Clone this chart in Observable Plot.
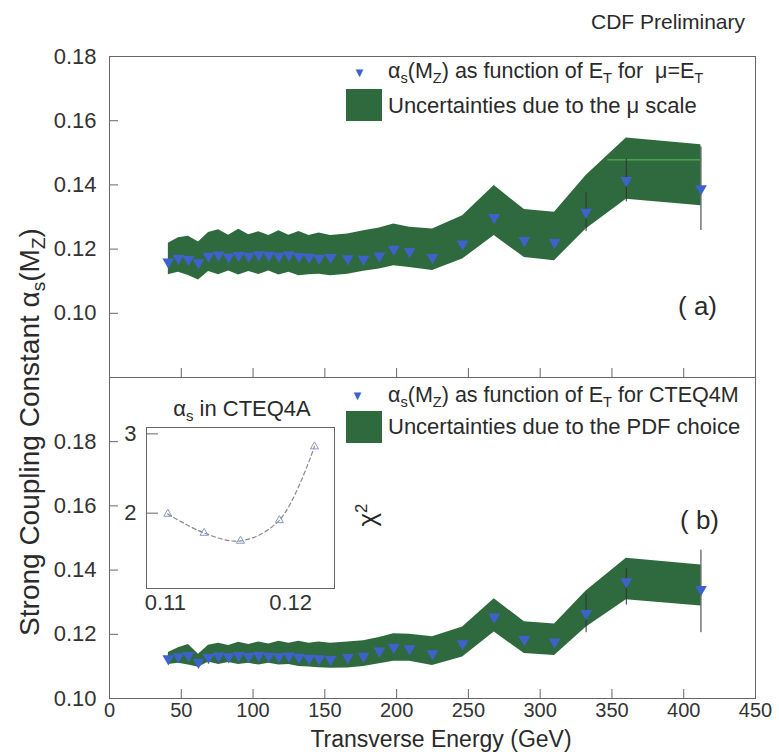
<!DOCTYPE html>
<html>
<head>
<meta charset="utf-8">
<script src="https://cdn.jsdelivr.net/npm/d3@7"></script>
<script src="https://cdn.jsdelivr.net/npm/@observablehq/plot@0.6"></script>
<style>
  html, body { margin: 0; padding: 0; background: #fff; }
  #root { position: relative; width: 779px; height: 752px; overflow: hidden; font-family: "Liberation Sans", Arial, sans-serif; color: #2a2a2a; }
  #root svg { position: absolute; }
  #root svg.main-b g[aria-label="x-axis tick label"],
  #root svg.main-b g[aria-label="x-axis"] { font-size: 20px; }
  .t { position: absolute; white-space: nowrap; transform: translateY(-50%); line-height: 1; }
  sub { font-size: 0.68em; vertical-align: -0.32em; line-height: 0; }
  .sw { position: absolute; background: #2e6a3e; }
</style>
</head>
<body>
<div id="root"></div>
<script>
// E_T bins (GeV)
const et = [41, 48, 55, 62, 69, 76, 83, 90, 97, 104, 111, 118, 125, 132, 139, 146, 154, 166, 177, 188, 198, 209, 225, 246, 268, 289, 310, 332, 360, 412];

// Panel (a): alpha_s(M_Z) for mu = E_T, and mu-scale uncertainty band
const alphaA = [0.1160, 0.1172, 0.1168, 0.1158, 0.1178, 0.1182, 0.1176, 0.1180, 0.1178, 0.1183, 0.1181, 0.1178, 0.1182, 0.1177, 0.1175, 0.1172, 0.1174, 0.1170, 0.1169, 0.1179, 0.1200, 0.1193, 0.1174, 0.1216, 0.1299, 0.1227, 0.1221, 0.1315, 0.1414, 0.1388];
const upperA = [0.1218, 0.1235, 0.1240, 0.1222, 0.1252, 0.1260, 0.1243, 0.1262, 0.1245, 0.1254, 0.1242, 0.1257, 0.1243, 0.1255, 0.1242, 0.1250, 0.1242, 0.1247, 0.1257, 0.1266, 0.1278, 0.1268, 0.1263, 0.1304, 0.1398, 0.1323, 0.1315, 0.1429, 0.1546, 0.1525];
const lowerA = [0.1120, 0.1128, 0.1118, 0.1104, 0.1130, 0.1120, 0.1132, 0.1119, 0.1130, 0.1121, 0.1132, 0.1119, 0.1128, 0.1117, 0.1120, 0.1122, 0.1117, 0.1122, 0.1131, 0.1138, 0.1148, 0.1143, 0.1133, 0.1169, 0.1242, 0.1174, 0.1164, 0.1263, 0.1355, 0.1335];

// Panel (b): alpha_s(M_Z) for CTEQ4M, and PDF-choice uncertainty band
const alphaB = [0.1124, 0.1130, 0.1134, 0.1113, 0.1128, 0.1133, 0.1130, 0.1134, 0.1131, 0.1134, 0.1132, 0.1130, 0.1133, 0.1129, 0.1126, 0.1124, 0.1122, 0.1128, 0.1132, 0.1148, 0.1160, 0.1155, 0.1140, 0.1171, 0.1254, 0.1184, 0.1176, 0.1265, 0.1364, 0.1340];
const upperB = [0.1143, 0.1158, 0.1168, 0.1138, 0.1166, 0.1172, 0.1165, 0.1175, 0.1168, 0.1176, 0.1170, 0.1178, 0.1172, 0.1178, 0.1172, 0.1176, 0.1172, 0.1176, 0.1180, 0.1190, 0.1202, 0.1200, 0.1192, 0.1223, 0.1311, 0.1239, 0.1232, 0.1335, 0.1437, 0.1416];
const lowerB = [0.1106, 0.1110, 0.1104, 0.1097, 0.1114, 0.1106, 0.1112, 0.1106, 0.1110, 0.1104, 0.1110, 0.1104, 0.1106, 0.1100, 0.1098, 0.1096, 0.1094, 0.1095, 0.1100, 0.1108, 0.1116, 0.1116, 0.1103, 0.1129, 0.1207, 0.1140, 0.1134, 0.1222, 0.1308, 0.1288];

// visible error bars at the highest E_T points
const errX = [332, 360, 412];
const errLoA = [0.1255, 0.1347, 0.1258];
const errHiA = [0.1375, 0.1481, 0.1518];
const errLoB = [0.1205, 0.1291, 0.1205];
const errHiB = [0.1325, 0.1405, 0.1462];

// thin green line inside the band of panel (a)
const greenX = [347, 412];
const greenY = [0.1478, 0.1478];

// Inset: chi^2 vs alpha_s in CTEQ4A
const insetAlpha = [0.1102, 0.1131, 0.1160, 0.1191, 0.1219];
const insetChi2 = [1.99, 1.75, 1.65, 1.91, 2.84];

// ticks
const xTicks = [0, 50, 100, 150, 200, 250, 300, 350, 400, 450];
const yTicksA = [0.10, 0.12, 0.14, 0.16, 0.18];
const yTicksB = [0.10, 0.12, 0.14, 0.16, 0.18];
const insetXTicks = [0.11, 0.12];
const insetYTicks = [2, 3];

const GREEN = "#2e6a3e";
const BLUE = "#3d62c9";
const AXIS = "#666";
const FONT = "Liberation Sans, Arial, sans-serif";

const rowsA = et.map((x, i) => ({x, y: alphaA[i], lo: lowerA[i], hi: upperA[i]}));
const rowsB = et.map((x, i) => ({x, y: alphaB[i], lo: lowerB[i], hi: upperB[i]}));
const errA = errX.map((x, i) => ({x, lo: errLoA[i], hi: errHiA[i]}));
const errB = errX.map((x, i) => ({x, lo: errLoB[i], hi: errHiB[i]}));
const greenRows = greenX.map((x, i) => ({x, y: greenY[i]}));
const insetRows = insetAlpha.map((a, i) => ({a, c: insetChi2[i]}));

const root = document.getElementById("root");
const baseStyle = {background: "transparent", fontSize: "22px", fontFamily: FONT, color: "#333", overflow: "visible"};

// ---- Panel (a)
const hA = 380, mtA = 56, mbA = 3, ml = 109, mr = 24;
const innerW = 779 - ml - mr;
const innerHA = hA - mtA - mbA;
const plotA = Plot.plot({
  width: 779, height: hA,
  marginTop: mtA, marginBottom: mbA, marginLeft: ml, marginRight: mr,
  style: baseStyle,
  x: {domain: [0, 450], axis: null},
  y: {domain: [0.08, 0.18], ticks: yTicksA, tickSize: 0, tickPadding: 13, tickFormat: d3.format(".2f"), label: null},
  marks: [
    Plot.areaY(rowsA, {x: "x", y1: "lo", y2: "hi", fill: GREEN}),
    Plot.line(greenRows, {x: "x", y: "y", stroke: "#5cc05c", strokeWidth: 1}),
    Plot.ruleX(errA, {x: "x", y1: "lo", y2: "hi", stroke: "#333", strokeWidth: 1}),
    Plot.dot(rowsA, {x: "x", y: "y", symbol: "triangle", rotate: 180, fill: BLUE, r: 4.4}),
    Plot.tickX(xTicks.slice(1, -1), {x: d => d, insetTop: innerHA - 9, stroke: AXIS}),
    Plot.tickY(yTicksA, {y: d => d, insetRight: innerW - 9, stroke: AXIS}),
    Plot.frame({stroke: AXIS})
  ]
});
plotA.style.left = "0px"; plotA.style.top = "0px";
root.appendChild(plotA);

// ---- Panel (b)
const hB = 752, mtB = 377, mbB = 54;
const innerHB = hB - mtB - mbB;
const plotB = Plot.plot({
  width: 779, height: hB,
  marginTop: mtB, marginBottom: mbB, marginLeft: ml, marginRight: mr,
  style: baseStyle,
  x: {domain: [0, 450], ticks: xTicks, tickSize: 0, tickPadding: 4, label: null},
  y: {domain: [0.10, 0.20], ticks: yTicksB, tickSize: 0, tickPadding: 13, tickFormat: d3.format(".2f"), label: null},
  marks: [
    Plot.areaY(rowsB, {x: "x", y1: "lo", y2: "hi", fill: GREEN}),
    Plot.ruleX(errB, {x: "x", y1: "lo", y2: "hi", stroke: "#333", strokeWidth: 1}),
    Plot.dot(rowsB, {x: "x", y: "y", symbol: "triangle", rotate: 180, fill: BLUE, r: 4.4}),
    Plot.tickX(xTicks.slice(1, -1), {x: d => d, insetTop: innerHB - 9, stroke: AXIS}),
    Plot.tickY(yTicksB, {y: d => d, insetRight: innerW - 9, stroke: AXIS}),
    Plot.frame({stroke: AXIS})
  ]
});
plotB.classList.add("main-b");
plotB.style.left = "0px"; plotB.style.top = "0px";
root.appendChild(plotB);

// ---- Inset
const iw = 223, ih = 196, iml = 30, imr = 5, imt = 5, imb = 30;
const inset = Plot.plot({
  width: iw, height: ih,
  marginTop: imt, marginBottom: imb, marginLeft: iml, marginRight: imr,
  style: baseStyle,
  x: {domain: [0.1085, 0.1235], ticks: insetXTicks, tickSize: 0, tickPadding: 6, tickFormat: d3.format(".2f"), label: null},
  y: {domain: [1.05, 3.08], ticks: insetYTicks, tickSize: 0, tickPadding: 10, tickFormat: d3.format("d"), label: null},
  marks: [
    Plot.tickY(insetYTicks, {y: d => d, insetRight: (iw - iml - imr) - 12, stroke: AXIS}),
    Plot.line(insetRows, {x: "a", y: "c", curve: "catmull-rom", stroke: "#8a8a8a", strokeWidth: 1.2, strokeDasharray: "4,3"}),
    Plot.dot(insetRows, {x: "a", y: "c", symbol: "triangle", stroke: "#8b97c8", fill: "none", r: 3, strokeWidth: 1}),
    Plot.frame({stroke: AXIS})
  ]
});
inset.style.left = "116px"; inset.style.top = "422px";
root.appendChild(inset);

// ---- Texts and legends (HTML)
function addText(html, left, top, size, extra = "") {
  const d = document.createElement("div");
  d.className = "t";
  d.innerHTML = html;
  d.style.left = left + "px";
  d.style.top = top + "px";
  d.style.fontSize = size + "px";
  if (extra) d.style.cssText += extra;
  root.appendChild(d);
  return d;
}
function addSwatch(left, top, w, h) {
  const d = document.createElement("div");
  d.className = "sw";
  Object.assign(d.style, {left: left + "px", top: top + "px", width: w + "px", height: h + "px"});
  root.appendChild(d);
}

addText("CDF Preliminary", 591, 21, 21);

// legend (a)
addText("▼", 353, 72, 13, `color:${BLUE};`);
addText("α<sub>s</sub>(M<sub>Z</sub>) as function of E<sub>T</sub> for&nbsp; μ=E<sub>T</sub>", 388, 72, 21.5);
addSwatch(346, 89, 36, 32);
addText("Uncertainties due to the μ scale", 388, 106, 22);
addText("( a)", 678, 306, 26);

// legend (b)
addText("▼", 351, 395, 13, `color:${BLUE};`);
addText("α<sub>s</sub>(M<sub>Z</sub>) as function of E<sub>T</sub> for CTEQ4M", 388, 396, 21.5);
addSwatch(346, 411, 36, 32);
addText("Uncertainties due to the PDF choice", 388, 427, 22);
addText("( b)", 680, 520, 26);

// inset title and chi2 label
addText("α<sub>s</sub> in CTEQ4A", 242, 409, 22, "transform: translate(-50%,-50%);");
addText("χ<sup style='font-size:0.65em'>2</sup>", 367, 515, 26, "transform: translate(-50%,-50%) rotate(-90deg);");

// axis titles
addText("Strong Coupling Constant α<sub>s</sub>(M<sub>Z</sub>)", 30, 432, 28, "transform: translate(-50%,-50%) rotate(-90deg);");
addText("Transverse Energy (GeV)", 441, 739, 23, "transform: translate(-50%,-50%);");
</script>
</body>
</html>
